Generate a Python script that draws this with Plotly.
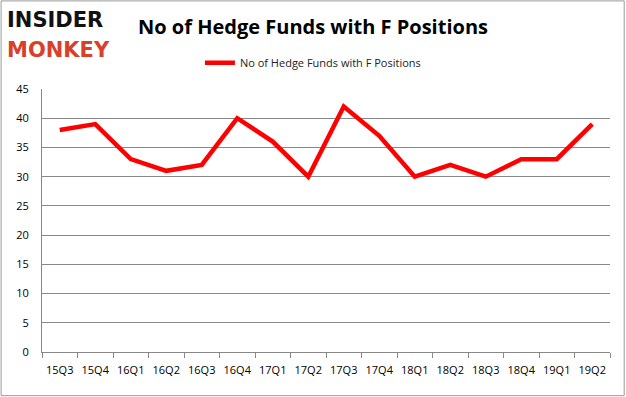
import plotly.graph_objects as go

quarters = ["15Q3", "15Q4", "16Q1", "16Q2", "16Q3", "16Q4", "17Q1", "17Q2",
            "17Q3", "17Q4", "18Q1", "18Q2", "18Q3", "18Q4", "19Q1", "19Q2"]
hedge_funds = [38, 39, 33, 31, 32, 40, 36, 30, 42, 37, 30, 32, 30, 33, 33, 39]
series_name = "No of Hedge Funds with F Positions"
y_ticks = [0, 5, 10, 15, 20, 25, 30, 35, 40, 45]

fig = go.Figure()
fig.add_trace(go.Scatter(
    x=quarters, y=hedge_funds, mode="lines", name=series_name,
    line=dict(color="#ff0000", width=4.5),
))

fig.update_layout(
    width=626, height=397,
    margin=dict(l=42, r=16, t=89, b=45, autoexpand=False),
    paper_bgcolor="white", plot_bgcolor="white",
    title=dict(text="<b>No of Hedge Funds with F Positions</b>",
               x=0.5, xanchor="center", y=0.932, yanchor="middle",
               font=dict(family="Open Sans", size=20, color="black")),
    showlegend=True,
    legend=dict(orientation="h", x=0.477, xanchor="center", y=1.1, yanchor="middle",
                font=dict(family="Open Sans", size=11, color="#222"),
                bgcolor="rgba(0,0,0,0)"),
    xaxis=dict(type="category", tickson="boundaries", ticks="outside", ticklen=5,
               tickcolor="#888", showline=True, linecolor="#888", linewidth=1,
               showgrid=False, tickangle=0, automargin=False, ticklabelstandoff=8,
               tickfont=dict(family="Open Sans", size=11, color="black"),
               range=[-0.5, len(quarters) - 0.5]),
    yaxis=dict(range=[0, 45], tickvals=y_ticks, showgrid=True, gridcolor="#888",
               gridwidth=1, showline=True, linecolor="#888", linewidth=1,
               ticks="", zeroline=False, automargin=False, ticklabelstandoff=10,
               tickfont=dict(family="Open Sans", size=11, color="black")),
    shapes=[dict(type="rect", xref="paper", yref="paper", x0=-0.072, x1=1.025,
                 y0=-0.166, y1=1.335, line=dict(color="#999", width=1))],
    annotations=[
        dict(text="<b>INSIDER</b>", xref="paper", yref="paper", x=-0.066, y=1.315,
             xanchor="left", yanchor="top", showarrow=False,
             font=dict(family="DejaVu Sans", size=21, color="#111")),
        dict(text="<b>MONKEY</b>", xref="paper", yref="paper", x=-0.066, y=1.2,
             xanchor="left", yanchor="top", showarrow=False,
             font=dict(family="DejaVu Sans", size=21, color="#d9402b")),
    ],
)

fig.write_html("out.html", config={"displayModeBar": False},
               post_script="document.body.style.margin='0';")
